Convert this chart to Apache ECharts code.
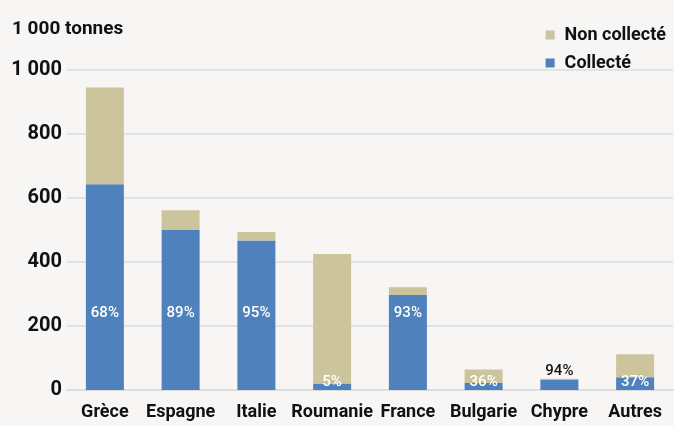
<!DOCTYPE html>
<html>
<head>
<meta charset="utf-8">
<script src="https://cdn.jsdelivr.net/npm/echarts@6/dist/echarts.min.js"></script>
<style>
	html, body { margin: 0; padding: 0; background: #f7f6f4; }
	#chart { width: 674px; height: 426px; }
</style>
</head>
<body>
<div id="chart"></div>
<script>
	// données (milliers de tonnes)
	var categories = ['Grèce', 'Espagne', 'Italie', 'Roumanie', 'France', 'Bulgarie', 'Chypre', 'Autres'];
	var collecte = [643, 500, 467, 20, 297, 22, 33, 40];
	var nonCollecte = [302, 62, 27, 405, 24, 42, 2, 72];
	var pourcentages = ['68%', '89%', '95%', '5%', '93%', '36%', '94%', '37%'];
	var yTicks = [0, 200, 400, 600, 800, 1000];

	var FONT = 'Roboto, "Liberation Sans", sans-serif';
	var BLEU = '#4f81bd';
	var BEIGE = '#ccc49c';

	var chart = echarts.init(document.getElementById('chart'));

	// étiquettes : dans la barre si elle est haute, sinon en bas ou au-dessus
	var collecteData = collecte.map(function (v, i) {
		var label;
		if (v >= 200) {
			label = { show: true, position: 'insideBottom', distance: 69, color: '#fff' };
		} else if (nonCollecte[i] < 10) {
			label = { show: true, position: 'top', distance: 1, color: '#111' };
		} else {
			label = { show: true, position: 'insideBottom', distance: 0, color: '#fff' };
		}
		return { value: v, label: label };
	});

	var option = {
		backgroundColor: '#f7f6f4',
		animation: false,
		title: {
			text: '1 000 tonnes',
			left: 7,
			top: 15,
			textStyle: { fontFamily: FONT, fontSize: 19, fontWeight: 'bold', color: '#111' }
		},
		legend: {
			orient: 'vertical',
			right: 3,
			top: 21,
			icon: 'rect',
			itemWidth: 9,
			itemHeight: 9,
			itemGap: 10,
			data: ['Non collecté', 'Collecté'],
			textStyle: { fontFamily: FONT, fontSize: 18, fontWeight: 'bold', color: '#111', padding: [0, 0, 0, 5] }
		},
		grid: {
			left: 67,
			right: 1,
			top: 70,
			bottom: 36
		},
		xAxis: {
			type: 'category',
			data: categories,
			axisTick: { show: false },
			axisLine: { lineStyle: { color: '#dcdcdc', width: 2 } },
			axisLabel: { fontFamily: FONT, fontSize: 18, fontWeight: 'bold', color: '#111', margin: 13, interval: 0 }
		},
		yAxis: {
			type: 'value',
			min: yTicks[0],
			max: yTicks[yTicks.length - 1],
			interval: 200,
			axisLine: { show: false },
			axisTick: { show: false },
			splitLine: { lineStyle: { color: '#e2e2e2', width: 2 } },
			axisLabel: {
				fontFamily: FONT, fontSize: 20, fontWeight: 'bold', color: '#111', margin: 5,
				formatter: function (v) { return v >= 1000 ? '1 000' : String(v); }
			}
		},
		series: [
			{
				name: 'Collecté',
				type: 'bar',
				stack: 'total',
				barWidth: 38,
				itemStyle: { color: BLEU },
				label: {
					fontFamily: FONT, fontSize: 15, fontWeight: 500,
					formatter: function (p) { return pourcentages[p.dataIndex]; }
				},
				data: collecteData
			},
			{
				name: 'Non collecté',
				type: 'bar',
				stack: 'total',
				barWidth: 38,
				itemStyle: { color: BEIGE },
				data: nonCollecte
			}
		]
	};
	chart.setOption(option);
</script>
</body>
</html>
